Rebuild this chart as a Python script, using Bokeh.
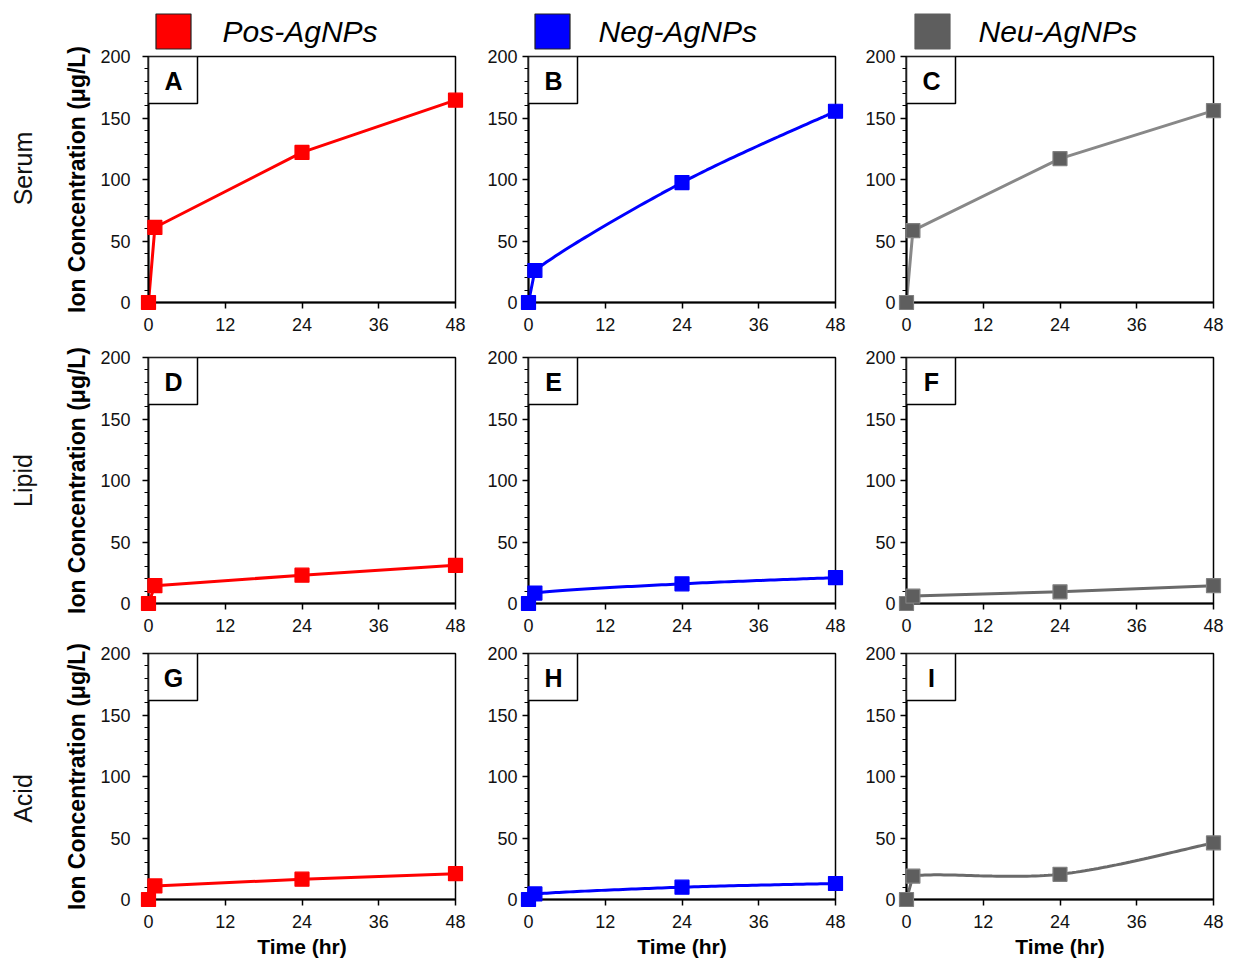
import numpy as np
from bokeh.plotting import figure
from bokeh.models import Range1d, FixedTicker, Label, BoxAnnotation
from bokeh.core.properties import value
from bokeh.layouts import column, row
from bokeh.embed import file_html
from bokeh.resources import INLINE

# ---------------- data ----------------
time_hr = [0, 1, 24, 48]
media = ["Serum", "Lipid", "Acid"]
particles = ["Pos-AgNPs", "Neg-AgNPs", "Neu-AgNPs"]
panel_letters = [["A", "B", "C"], ["D", "E", "F"], ["G", "H", "I"]]

serum_pos = [0, 61, 122, 164.5]
serum_neg = [0, 26, 97.5, 155.5]
serum_neu = [0, 58.5, 117, 156]
lipid_pos = [0, 14.5, 23, 31]
lipid_neg = [0, 8.5, 16, 21]
lipid_neu = [0, 6, 9.5, 14.5]
acid_pos = [0, 11, 16.5, 21]
acid_neg = [0, 4.5, 10, 13]
acid_neu = [0, 19, 20.5, 46]

x_ticks = [0, 12, 24, 36, 48]
y_ticks = [0, 50, 100, 150, 200]
y_minor_ticks = list(range(0, 201, 10))

series = [[serum_pos, serum_neg, serum_neu],
          [lipid_pos, lipid_neg, lipid_neu],
          [acid_pos, acid_neg, acid_neu]]
smooth = [[False, True, False], [False, True, False], [False, True, True]]

# ---------------- style ----------------
FONT = "Liberation Sans"
line_colors = ["#FF0000", "#0000FF", "#888888"]
line_colors_lower = ["#FF0000", "#0000FF", "#6A6A6A"]
marker_fill = ["#FF0000", "#0000FF", "#5E5E5E"]
marker_line = ["#FF0000", "#0000FF", "#808080"]
legend_fill = ["#FF0000", "#0000FF", "#5E5E5E"]
legend_line = ["#222222", "#222222", "#5E5E5E"]

FRAME_W, FRAME_H = 307, 246
col_border = [(148, 15), (58, 15), (56, 14)]
row_border = [(56, 40), (15, 40), (10, 58)]
frame_left = [148, 528, 906]
frame_top = [56, 357, 653]
row_label_y = [168, 480, 798]
legend_sq_x = [173, 552, 932]
legend_txt_x = [222, 598, 978]
legend_y = 31


def dx(px, c):
    return (px - frame_left[c]) / FRAME_W * 48.0


def dy(py, r):
    return 200.0 - (py - frame_top[r]) / FRAME_H * 200.0


def excel_smooth(xs, ys, n=40):
    P = np.column_stack([xs, ys]).astype(float)
    m = len(P)
    out = [P[0]]
    for i in range(m - 1):
        p1, p2 = P[i], P[i + 1]
        if i == 0:
            out.append(p2)
            continue
        p0 = P[i - 1]
        p3 = P[i + 2] if i + 2 < m else P[i + 1]
        c1 = p1 + (p2 - p0) / 6.0
        c2 = p2 - (p3 - p1) / 6.0
        t = np.linspace(0, 1, n)[1:, None]
        seg = (1 - t) ** 3 * p1 + 3 * (1 - t) ** 2 * t * c1 + 3 * (1 - t) * t ** 2 * c2 + t ** 3 * p2
        out.extend(seg)
    out = np.array(out)
    return out[:, 0], out[:, 1]


rows = []
for r in range(3):
    figs = []
    for c in range(3):
        p = figure(frame_width=FRAME_W, frame_height=FRAME_H,
                   min_border_left=col_border[c][0], min_border_right=col_border[c][1],
                   min_border_top=row_border[r][0], min_border_bottom=row_border[r][1],
                   x_range=Range1d(0, 48), y_range=Range1d(0, 200),
                   output_backend="svg", toolbar_location=None, tools="")
        p.xgrid.visible = False
        p.ygrid.visible = False
        p.outline_line_color = "black"
        p.outline_line_width = 1.5
        p.background_fill_color = "white"
        p.border_fill_color = "white"

        p.xaxis.ticker = FixedTicker(ticks=x_ticks, minor_ticks=[])
        p.yaxis.ticker = FixedTicker(ticks=y_ticks, minor_ticks=y_minor_ticks)
        for ax in (p.xaxis[0], p.yaxis[0]):
            ax.axis_line_color = "black"
            ax.axis_line_width = 2
            ax.major_tick_line_color = "black"
            ax.major_tick_line_width = 1.5
            ax.major_tick_in = 0
            ax.major_tick_out = 6
            ax.minor_tick_in = 0
            ax.minor_tick_out = 4
            ax.minor_tick_line_color = "black"
            ax.minor_tick_line_width = 1.2
            ax.major_label_text_font = FONT
            ax.major_label_text_font_size = "18px"
            ax.major_label_text_color = "#111111"
        p.xaxis.major_label_standoff = 9
        p.yaxis.major_label_standoff = 12 if c == 0 else 5

        if c == 0:
            p.yaxis.axis_label = "Ion Concentration (μg/L)"
            p.yaxis.axis_label_text_font = FONT
            p.yaxis.axis_label_text_font_style = "bold"
            p.yaxis.axis_label_text_font_size = "23px"
            p.yaxis.axis_label_text_color = "black"
            p.yaxis.axis_label_standoff = 7
            p.text(x=[dx(22, c)], y=[dy(row_label_y[r], r)], text=[media[r]],
                   angle=np.pi / 2, text_align="center", text_baseline="middle",
                   text_font=value(FONT), text_font_size=value("25px"),
                   text_color="#111111", level="overlay")
        if r == 2:
            p.xaxis.axis_label = "Time (hr)"
            p.xaxis.axis_label_text_font = FONT
            p.xaxis.axis_label_text_font_style = "bold"
            p.xaxis.axis_label_text_font_size = "21px"
            p.xaxis.axis_label_text_color = "black"
            p.xaxis.axis_label_standoff = 4

        vals = series[r][c]
        lc = line_colors[c] if r == 0 else line_colors_lower[c]
        if smooth[r][c]:
            sx, sy = excel_smooth(time_hr, vals)
        else:
            sx, sy = time_hr, vals
        p.line(sx, sy, line_color=lc, line_width=3)
        p.scatter(time_hr, vals, marker="square", size=14, fill_color=marker_fill[c],
                  line_color=marker_line[c], line_width=1.2, level="overlay")

        # panel letter box
        p.add_layout(BoxAnnotation(left=0, right=dx(frame_left[c] + 49, c),
                                   bottom=dy(frame_top[r] + 47, r), top=200,
                                   fill_color="white", fill_alpha=1.0,
                                   line_color="black", line_alpha=1.0, line_width=1.5))
        p.add_layout(Label(x=dx(frame_left[c] + 25, c), y=dy(frame_top[r] + 24, r),
                           text=panel_letters[r][c], text_align="center", text_baseline="middle",
                           text_font=FONT, text_font_style="bold", text_font_size="25px",
                           text_color="black"))

        if r == 0:
            p.scatter([dx(legend_sq_x[c], c)], [dy(legend_y, r)], marker="square", size=35,
                      fill_color=legend_fill[c], line_color=legend_line[c], line_width=1.2,
                      level="overlay")
            p.text(x=[dx(legend_txt_x[c], c)], y=[dy(legend_y, r)], text=[particles[c]],
                   text_align="left", text_baseline="middle",
                   text_font=value(FONT), text_font_style="italic", text_font_size=value("30px"),
                   text_color="black", level="overlay")
        figs.append(p)
    rows.append(row(*figs, spacing=0))

layout = column(*rows, spacing=0)
open("out.html", "w").write(file_html(layout, INLINE))
